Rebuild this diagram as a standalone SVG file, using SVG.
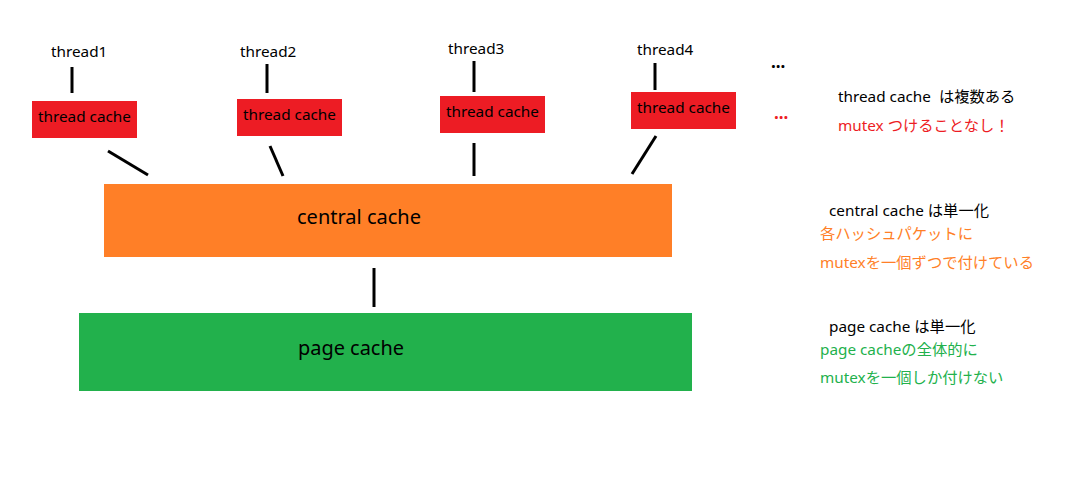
<svg xmlns="http://www.w3.org/2000/svg" width="1068" height="480" viewBox="0 0 1068 480">
<style>
text{font-family:"Noto Sans","Noto Sans CJK JP",sans-serif;font-size:15.3px;fill:#000}
.tc{fill:#ED1C24}
.red{fill:#ED1C24}
.org{fill:#FF7F27}
.grn{fill:#22B14C}
.ln{stroke:#000;stroke-width:3;fill:none}
.dot{font-size:17px;font-weight:bold}
</style>
<rect width="1068" height="480" fill="#fff"/>
<g id="thread1">
<text x="51" y="57">thread1</text>
</g>
<g id="thread2">
<text x="240" y="57">thread2</text>
</g>
<g id="thread3">
<text x="448" y="54">thread3</text>
</g>
<g id="thread4">
<text x="637" y="55">thread4</text>
</g>
<g id="tc1"><rect class="tc" x="32" y="101" width="105" height="37"/><text x="38" y="122">thread cache</text></g>
<g id="tc2"><rect class="tc" x="237" y="99" width="105" height="37"/><text x="243" y="120">thread cache</text></g>
<g id="tc3"><rect class="tc" x="440" y="96" width="105" height="37"/><text x="446" y="117">thread cache</text></g>
<g id="tc4"><rect class="tc" x="631" y="92" width="105" height="37"/><text x="637" y="113">thread cache</text></g>
<g id="central"><rect class="org" x="104" y="184" width="568" height="73"/><text x="297" y="224" style="font-size:19px" textLength="124" lengthAdjust="spacingAndGlyphs">central cache</text></g>
<g id="page"><rect class="grn" x="79" y="313" width="613" height="78"/><text x="298" y="355" style="font-size:19px" textLength="106" lengthAdjust="spacingAndGlyphs">page cache</text></g>
<g id="connectors">
<line class="ln" x1="72" y1="67" x2="72" y2="93"/>
<line class="ln" x1="267" y1="64" x2="267" y2="93"/>
<line class="ln" x1="474" y1="61" x2="474" y2="92"/>
<line class="ln" x1="655" y1="63" x2="655" y2="90"/>
<line class="ln" x1="108" y1="151" x2="148" y2="175"/>
<line class="ln" x1="270" y1="146" x2="283" y2="176"/>
<line class="ln" x1="474" y1="143" x2="474" y2="176"/>
<line class="ln" x1="656" y1="136" x2="632" y2="174"/>
<line class="ln" x1="374" y1="268" x2="374" y2="307"/>
</g>
<g id="dots">
<text class="dot" x="771" y="68">...</text>
<text class="dot red" x="774" y="119">...</text>
</g>
<g id="notes">
<text x="838" y="102" xml:space="preserve">thread cache  は複数ある</text>
<text x="838" y="131" class="red">mutex つけることなし！</text>
<text x="829" y="216">central cache は単一化</text>
<text x="820" y="239" class="org">各ハッシュパケットに</text>
<text x="820" y="268" class="org">mutexを一個ずつで付けている</text>
<text x="829" y="332">page cache は単一化</text>
<text x="820" y="355" class="grn">page cacheの全体的に</text>
<text x="820" y="383" class="grn">mutexを一個しか付けない</text>
</g>
</svg>
